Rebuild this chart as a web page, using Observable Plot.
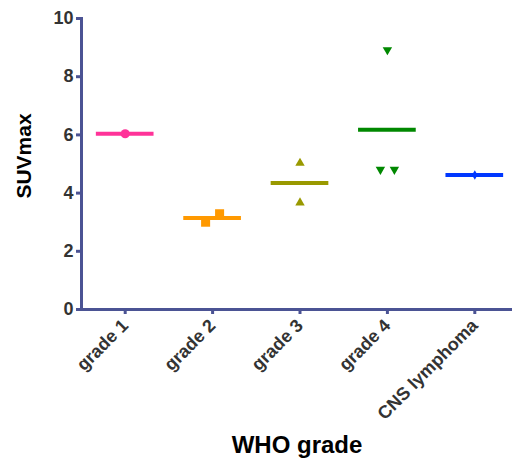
<!DOCTYPE html>
<html>
<head>
<meta charset="utf-8">
<script src="https://cdn.jsdelivr.net/npm/d3@7"></script>
<script src="https://cdn.jsdelivr.net/npm/@observablehq/plot@0.6"></script>
<style>
  html, body { margin: 0; padding: 0; background: #fff; }
  #chart svg { display: block; font-family: "Liberation Sans", Arial, sans-serif; }
</style>
</head>
<body>
<div id="chart"></div>
<script>
// ---- data ----
const categories = ["grade 1", "grade 2", "grade 3", "grade 4", "CNS lymphoma"];
const colors = ["#ff3399", "#ff9900", "#999900", "#008800", "#0037ff"];
const grade1 = [6.04];
const grade2 = [3.0, 3.29];
const grade3 = [5.03, 3.67];
const grade4 = [8.92, 4.81, 4.81];
const cnsLymphoma = [4.62];
const seriesValues = [grade1, grade2, grade3, grade4, cnsLymphoma];
const yTicks = [0, 2, 4, 6, 8, 10];
const yLabel = "SUVmax";
const xLabel = "WHO grade";

// ---- symbols ----
const triangleDown = {
  draw(context, size) {
    const y = -Math.sqrt(size / (Math.sqrt(3) * 3));
    context.moveTo(0, -y * 2);
    context.lineTo(-Math.sqrt(3) * y, y);
    context.lineTo(Math.sqrt(3) * y, y);
    context.closePath();
  }
};
const symbols = ["circle", "square", "triangle", triangleDown, "diamond"];
const radii = [4.6, 5.1, 3.5, 3.5, 2.9];

// ---- build points with side-by-side spreading of overlapping values ----
const points = [];
seriesValues.forEach((vals, i) => {
  const sorted = vals.map((v, k) => ({v, k})).sort((a, b) => a.v - b.v);
  const clusters = [];
  sorted.forEach(p => {
    const last = clusters[clusters.length - 1];
    if (last && p.v - last[last.length - 1].v < 0.35) last.push(p);
    else clusters.push([p]);
  });
  clusters.forEach(cl => {
    cl.forEach((p, j) => {
      points.push({i, cat: categories[i], value: p.v, off: (j - (cl.length - 1) / 2) * 0.16});
    });
  });
});
const means = seriesValues.map((vals, i) => ({i, cat: categories[i], mean: d3.mean(vals)}));

const axisColor = "#4b5394";

const marks = [
  Plot.ruleY(means, {
    y: "mean", x1: d => d.i - 0.33, x2: d => d.i + 0.33,
    stroke: d => colors[d.i], strokeWidth: 4
  }),
  ...symbols.map((sym, i) => Plot.dot(points.filter(d => d.i === i), {
    x: d => d.i + d.off, y: "value", symbol: sym, r: radii[i],
    fill: colors[i], stroke: "none"
  })),
  Plot.frame({anchor: "left", stroke: axisColor, strokeWidth: 3, strokeOpacity: 1}),
  Plot.frame({anchor: "bottom", stroke: axisColor, strokeWidth: 3, strokeOpacity: 1}),
  Plot.axisY({
    ticks: yTicks, tickSize: 5, tickPadding: 3, stroke: axisColor, strokeWidth: 3,
    fontSize: 18, fontWeight: "bold", fill: "#333", label: null
  }),
  Plot.axisX({
    ticks: d3.range(categories.length), tickFormat: i => categories[i],
    tickSize: 5, tickPadding: 8, tickRotate: -45, stroke: axisColor, strokeWidth: 3,
    fontSize: 18, fontWeight: "bold", fill: "#333", label: null
  }),
  Plot.text([yLabel], {
    text: d => d, frameAnchor: "left", dx: -57, dy: -8, rotate: -90, textAnchor: "middle",
    lineAnchor: "middle", fontSize: 21, fontWeight: "bold", fill: "#000"
  }),
  Plot.text([xLabel], {
    text: d => d, frameAnchor: "bottom", dy: 136, lineAnchor: "middle",
    fontSize: 24, fontWeight: "bold", fill: "#000"
  })
];

const chart = Plot.plot({
  width: 512,
  height: 459,
  marginTop: 18,
  marginLeft: 81,
  marginRight: 0,
  marginBottom: 150,
  style: {fontFamily: "Liberation Sans, Arial, sans-serif", background: "#fff"},
  x: {type: "linear", domain: [-0.5, 4.5], range: [81, 518]},
  y: {domain: [0, 10], range: [309, 18]},
  marks
});
document.getElementById("chart").appendChild(chart);
</script>
</body>
</html>
